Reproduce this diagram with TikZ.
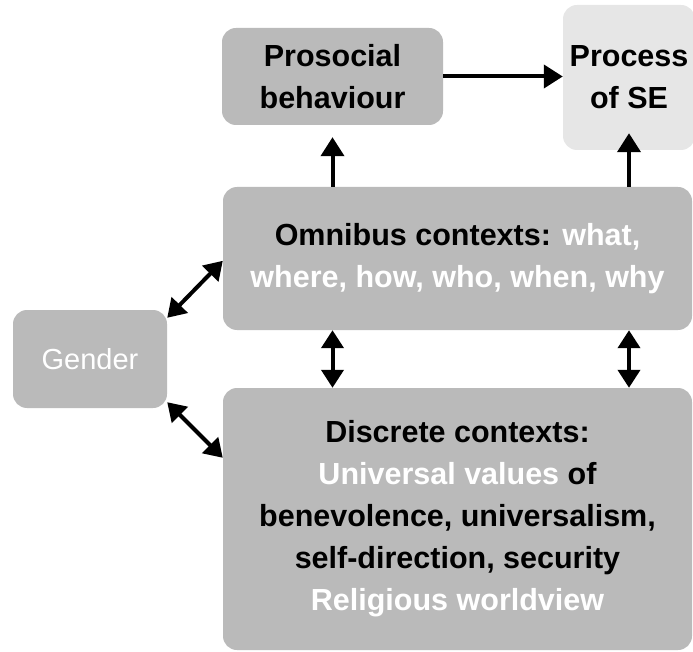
\documentclass[tikz,border=0pt]{standalone}
\usepackage{fontspec}
\setmainfont{Liberation Sans}
\usepackage{xcolor}
\usetikzlibrary{arrows.meta, positioning}
\definecolor{boxgray}{HTML}{BABABA}
\definecolor{procgray}{HTML}{E6E6E6}

\begin{document}
\begin{tikzpicture}[
    x=1pt, y=-1pt,
    box/.style={fill=boxgray, rounded corners=14pt, align=center, inner sep=2pt, font=\fontsize{30.5}{42}\selectfont\bfseries},
    arr/.style={line width=4pt, -{Triangle[length=19pt, width=23pt]}},
    darr/.style={line width=4pt, {Triangle[length=18pt, width=22pt]}-{Triangle[length=18pt, width=22pt]}}
]
\clip (0,0) rectangle (693,652);
\node[box, minimum width=221pt, minimum height=97pt] (pro) at (332.5,76.5) {Prosocial\\behaviour};
\node[box, fill=procgray, minimum width=132pt, minimum height=145pt] (proc) at (629,77.5) {Process\\of SE};
\node[box, minimum width=469pt, minimum height=143pt] (omni) at (457.5,258.5) {Omnibus contexts: \textcolor{white}{what,}\\\textcolor{white}{where, how, who, when, why}};
\node[box, minimum width=469pt, minimum height=262pt] (disc) at (457.5,519) {Discrete contexts:\\\textcolor{white}{Universal values} of\\benevolence, universalism,\\self-direction, security\\\textcolor{white}{Religious worldview}};
\node[box, minimum width=154pt, minimum height=98pt, text=white, font=\fontsize{29}{40}\selectfont] (gen) at (90,359) {Gender};

\draw[arr] (pro.east) -- (pro.east -| proc.west);
\draw[arr] (omni.north -| pro) -- ([yshift=-12pt]pro.south);
\draw[arr] (omni.north -| proc) -- ([yshift=17pt]proc.south);
\draw[darr] (omni.south -| pro) -- (disc.north -| pro);
\draw[darr] (omni.south -| proc) -- (disc.north -| proc);
\draw[darr] ([yshift=-8pt]gen.north east) -- ([yshift=-74pt]omni.north west);
\draw[darr] ([yshift=6pt]gen.south east) -- ([yshift=-70pt]disc.north west);
\end{tikzpicture}
\end{document}
